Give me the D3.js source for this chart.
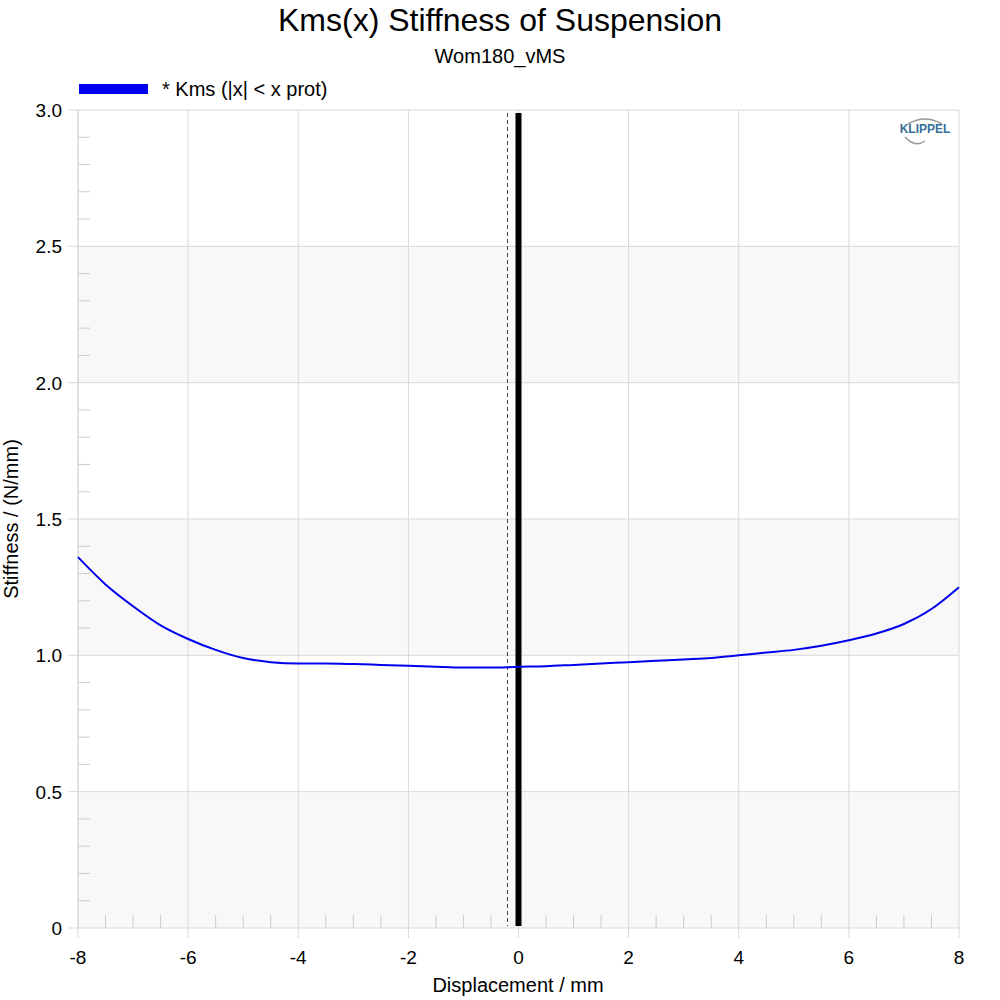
<!DOCTYPE html>
<html><head><meta charset="utf-8">
<script src="https://cdn.jsdelivr.net/npm/d3@7"></script>
<style>body{margin:0;background:#fff}svg{font-family:Arial,"Liberation Sans",sans-serif}</style>
</head><body><svg id="c" width="1000" height="1000"></svg>
<script>
const xs = [-8,-7.5,-7,-6.5,-6,-5.5,-5,-4.5,-4,-3.5,-3,-2.5,-2,-1.5,-1,-0.5,0,0.5,1,1.5,2,2.5,3,3.5,4,4.5,5,5.5,6,6.5,7,7.5,8];
const kms = [1.36,1.26,1.18,1.11,1.06,1.02,0.99,0.975,0.97,0.97,0.968,0.965,0.962,0.958,0.955,0.955,0.958,0.96,0.965,0.97,0.975,0.98,0.985,0.99,1.0,1.01,1.02,1.035,1.055,1.08,1.115,1.17,1.25];
const xTicks = [-8,-6,-4,-2,0,2,4,6,8];
const yTicks = [0,0.5,1.0,1.5,2.0,2.5,3.0];
const yTickLabels = ["0","0.5","1.0","1.5","2.0","2.5","3.0"];
const xProt = 0, xProtDash = -0.2;

const svg = d3.select("#c");
const L=78,R=959,T=110,B=928;
const x = d3.scaleLinear().domain([-8,8]).range([L,R]);
const y = d3.scaleLinear().domain([0,3]).range([B,T]);

for (let i=0;i<6;i+=2) svg.append("rect").attr("x",L).attr("width",R-L)
  .attr("y",y(yTicks[i+1])).attr("height",y(yTicks[i])-y(yTicks[i+1])).attr("fill","#f8f8f8");
xTicks.forEach(t=>svg.append("line").attr("x1",x(t)).attr("x2",x(t)).attr("y1",T).attr("y2",B+10).attr("stroke","#d8d8d8"));
yTicks.forEach(t=>svg.append("line").attr("x1",L-10).attr("x2",R).attr("y1",y(t)).attr("y2",y(t)).attr("stroke","#d8d8d8"));
d3.range(-7.5,8,0.5).filter(v=>v%2!==0).forEach(t=>svg.append("line").attr("x1",x(t)).attr("x2",x(t)).attr("y1",B).attr("y2",B-13).attr("stroke","#ccc"));
d3.range(1,30).filter(i=>i%5!==0).forEach(i=>svg.append("line").attr("x1",L).attr("x2",L+12).attr("y1",y(i/10)).attr("y2",y(i/10)).attr("stroke","#ccc"));
svg.append("line").attr("x1",L).attr("x2",L).attr("y1",T).attr("y2",B).attr("stroke","#d8d8d8");
xTicks.forEach(t=>svg.append("text").attr("x",x(t)).attr("y",B+36).attr("text-anchor","middle").attr("font-size",19).text(t));
yTicks.forEach((t,i)=>svg.append("text").attr("x",L-16).attr("y",y(t)+7).attr("text-anchor","end").attr("font-size",19).text(yTickLabels[i]));
svg.append("line").attr("x1",x(xProtDash)).attr("x2",x(xProtDash)).attr("y1",T+3).attr("y2",B-2).attr("stroke","#444").attr("stroke-dasharray","4,3");
svg.append("line").attr("x1",x(xProt)).attr("x2",x(xProt)).attr("y1",T+3).attr("y2",B-2).attr("stroke","#000").attr("stroke-width",6);
svg.append("path").datum(xs.map((v,i)=>[v,kms[i]])).attr("fill","none").attr("stroke","#0000ee").attr("stroke-width",2)
  .attr("d",d3.line().x(d=>x(d[0])).y(d=>y(d[1])).curve(d3.curveMonotoneX));
svg.append("text").attr("x",500).attr("y",31).attr("text-anchor","middle").attr("font-size",32).text("Kms(x) Stiffness of Suspension");
svg.append("text").attr("x",500).attr("y",63).attr("text-anchor","middle").attr("font-size",20).text("Wom180_vMS");
svg.append("text").attr("x",518).attr("y",992).attr("text-anchor","middle").attr("font-size",20).text("Displacement / mm");
svg.append("text").attr("transform","translate(18,519) rotate(-90)").attr("text-anchor","middle").attr("font-size",20).text("Stiffness / (N/mm)");
svg.append("rect").attr("x",79).attr("y",84).attr("width",69).attr("height",10).attr("fill","#0000ee");
svg.append("text").attr("x",162).attr("y",96).attr("font-size",20).text("* Kms (|x| < x prot)");
svg.append("text").attr("x",925).attr("y",133).attr("text-anchor","middle").attr("font-size",12).attr("font-weight","bold").attr("fill","#3a6f9a").text("KLIPPEL");
svg.append("path").attr("d","M908,124 Q925,114 942,124").attr("fill","none").attr("stroke","#999").attr("stroke-width",1.5);
svg.append("path").attr("d","M905,137 Q915,148 925,141").attr("fill","none").attr("stroke","#999").attr("stroke-width",1.5);
</script></body></html>
